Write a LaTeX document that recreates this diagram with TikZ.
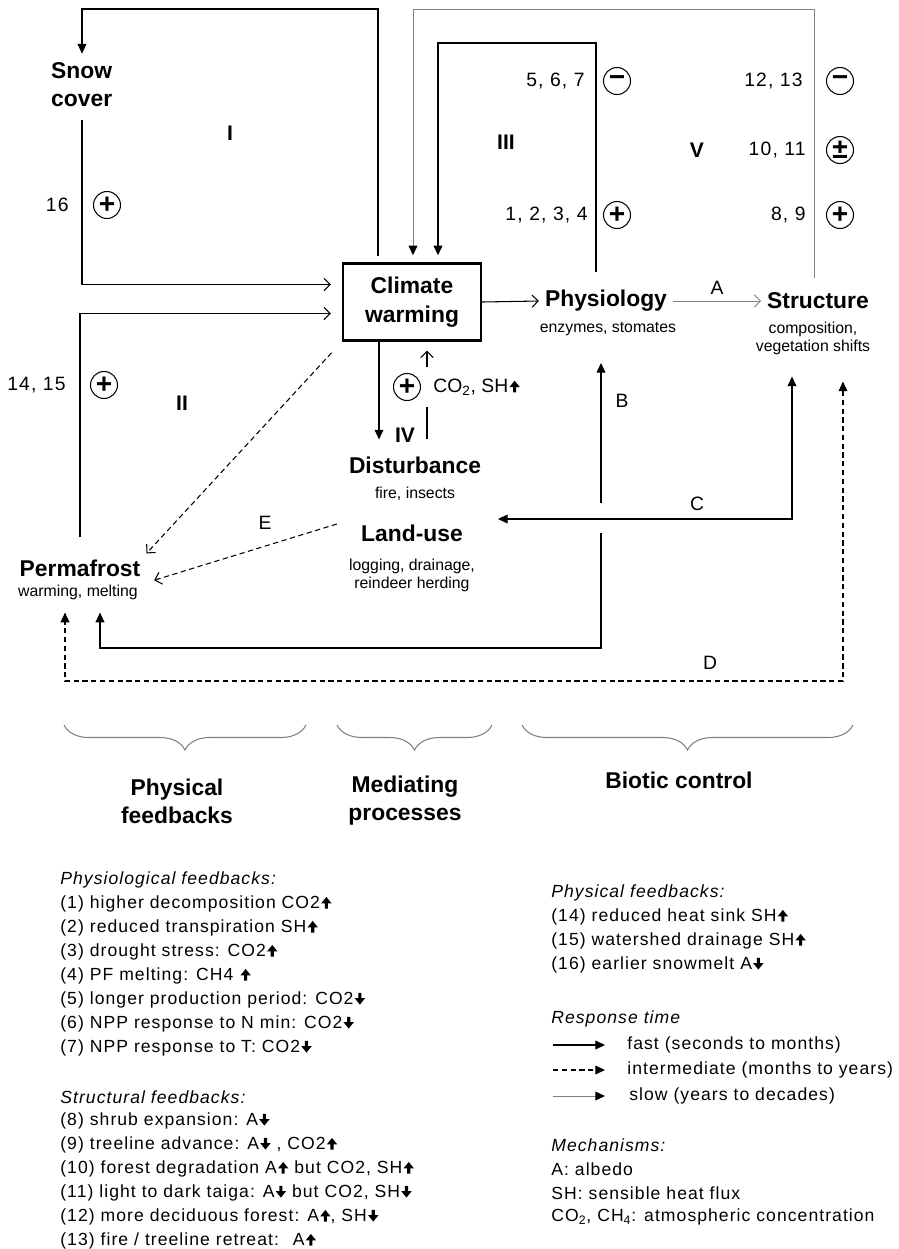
\documentclass[tikz,border=0pt]{standalone}
\usepackage{fontspec}
\setmainfont{Liberation Sans}
\newfontfamily\legfont{Liberation Sans}[LetterSpace=6]
\usetikzlibrary{arrows.meta,decorations.pathreplacing}
\newcommand{\upa}{\hspace{0.6pt}\tikz[x=1pt,y=1pt,baseline=0pt]\fill[black] (-0.9,0) rectangle (0.9,3.2) (-3,2.9) -- (0,6.6) -- (3,2.9) -- cycle;}
\newcommand{\dna}{\hspace{0.6pt}\tikz[x=1pt,y=1pt,baseline=0pt]\fill[black] (-0.9,6.6) rectangle (0.9,3.4) (-3,3.7) -- (0,0) -- (3,3.7) -- cycle;}

\begin{document}
\begin{tikzpicture}[
    x=0.02cm, y=-0.02cm,
    tri/.tip={Triangle[length=5.5pt,width=5pt]},
    stri/.tip={Triangle[length=5.5pt,width=5pt,color=black]},
    chev/.tip={Straight Barb[length=3.5pt,width=7pt]},
    fast/.style={draw=black, line width=0.6pt},
    mid/.style={draw=black, line width=0.6pt, dash pattern=on 3pt off 2pt},
    slow/.style={draw=gray, line width=0.5pt},
    title/.style={font=\fontsize{13}{16}\selectfont\bfseries, align=center},
    sub/.style={font=\fontsize{9}{10.2}\selectfont, align=center},
    cbox/.style={rectangle, draw, line width=1.4pt, minimum width=2.76cm, minimum height=1.54cm, align=center, font=\fontsize{13}{16.4}\selectfont\bfseries},
    num/.style={font=\legfont\fontsize{11}{13}\selectfont, inner sep=0pt, anchor=east},
    lab/.style={font=\fontsize{11}{13}\selectfont},
    roman/.style={font=\fontsize{12}{14}\selectfont\bfseries},
    sign/.style={circle, draw, line width=0.6pt, minimum size=0.54cm, inner sep=0pt, font=\fontsize{16}{16}\selectfont\bfseries},
    brace/.style={draw=gray, line width=0.6pt, decorate, decoration={brace, amplitude=0.5cm}},
    leg/.style={anchor=west, inner sep=0pt, font=\legfont\fontsize{10}{12}\selectfont},
    legh/.style={leg, font=\legfont\fontsize{10}{12}\selectfont\itshape}
]
\useasboundingbox (0,0) rectangle (899,1249);
% Nodes of the scheme
\node[cbox] (climate) at (412,302) {Climate\\warming};
\node[title] (phys) at (606,301) {Physiology};
\node[sub] (physsub) at (608,329) {enzymes, stomates};
\node[title] (struct) at (818,301) {Structure};
\node[sub] (structsub) at (813,338) {composition,\\vegetation shifts};
\node[title] (dist) at (415,465) {Disturbance};
\node[sub] (distsub) at (415,494) {fire, insects};
\node[title] (landuse) at (412,533) {Land-use};
\node[sub] (landsub) at (412,575) {logging, drainage,\\reindeer herding};
\node[title] (perma) at (80,568) {Permafrost};
\node[sub] (permasub) at (78,592) {warming, melting};
\node[title, align=left, anchor=west] (snow) at (45,85) {Snow\\cover};
% Loop I (snow cover)
\coordinate (c1a) at (378,9);
\coordinate (c1b) at (82,9);
\draw[fast,-tri,shorten <=0.12cm,shorten >=0.06cm] (c1a |- climate.north) -- (c1a) -- (c1b) -- (c1b |- snow.north);
\draw[fast,-chev,shorten <=0.14cm,shorten >=0.22cm] (c1b |- snow.south) |- ([yshift=0.35cm]climate.west);
% Loop II (permafrost)
\draw[fast,-chev,shorten <=0.32cm,shorten >=0.22cm] (perma.north) |- ([yshift=-0.23cm]climate.west);
% Loop III (physiology)
\coordinate (c3a) at (596,43);
\coordinate (c3b) at (438,43);
\draw[fast,-tri,shorten <=0.24cm,shorten >=0.14cm] (c3a |- phys.north) -- (c3a) -- (c3b) -- (c3b |- climate.north);
% Loop V (structure)
\coordinate (c5a) at (814,9);
\coordinate (c5b) at (413,9);
\draw[slow,-stri,shorten <=0.18cm,shorten >=0.14cm] (c5a |- struct.north) -- (c5a) -- (c5b) -- (c5b |- climate.north);
% Climate, physiology, structure
\draw[fast,-chev] (climate.east) -- (phys.west);
\draw[slow,-chev] (phys.east) -- node[above, lab] (labA) {A} (struct.west);
% Loop IV (disturbance)
\draw[fast,-tri,shorten >=0.22cm] ([xshift=-0.66cm]climate.south) -- ([xshift=-0.66cm]climate.south |- dist.north);
\coordinate (up1) at (427,407);
\coordinate (up2) at (427,367);
\draw[fast,shorten <=0.22cm] (up1 |- dist.north) -- (up1);
\draw[fast,-chev,shorten >=0.18cm] (up2) -- (up2 |- climate.south);
\node[sign] (sgn4) at (407,387) {+};
\node[lab, anchor=west, inner sep=0pt] (co2) at (433,387) {CO\textsubscript{2}, SH\upa};
% B: physiology - permafrost
\coordinate (b1) at (601,503);
\coordinate (b2) at (601,533);
\coordinate (b3) at (100,648);
\draw[fast,tri-,shorten <=0.42cm] (b1 |- physsub.south) -- (b1);
\draw[fast,-tri,shorten >=0.14cm] (b2) |- (b3) -- (b3 |- permasub.south);
\node[lab] (labB) at (622,401) {B};
% C: structure - land-use
\coordinate (cc) at (792,519);
\draw[fast,tri-tri,shorten <=0.58cm,shorten >=0.32cm] (cc -| landuse.east) -- (cc) -- (cc |- structsub.south);
\node[lab] (labC) at (697,504) {C};
% D: structure - permafrost
\coordinate (d1) at (843,681);
\coordinate (d2) at (65,681);
\draw[mid,tri-tri,shorten <=0.42cm,shorten >=0.14cm] (d1 |- structsub.south) -- (d1) -- (d2) -- (d2 |- permasub.south);
\node[lab] (labD) at (710,663) {D};
% E and climate -> permafrost
\draw[mid,-chev,shorten <=0.3cm] (climate.south west) -- (perma.north east);
\draw[mid,-chev,shorten <=0.38cm,shorten >=0.16cm] (landuse.north west) -- (perma.south east);
\node[lab] (labE) at (265,523) {E};
% Signs and feedback numbers
\node[sign] (s16) at (107,205) {+};
\node[sign] (s1415) at (104,385) {+};
\node[sign] (s57) at (617,81) {−};
\node[sign] (s14) at (617,215) {+};
\node[sign] (s1213) at (840,81) {−};
\node[sign] (s1011) at (840,150) {±};
\node[sign] (s89) at (840,215) {+};
\node[num] (n16) at (69,205) {16};
\node[num] (n1415) at (66,385) {14, 15};
\node[num] (n57) at (585,81) {5, 6, 7};
\node[num] (n14) at (588,215) {1, 2, 3, 4};
\node[num] (n1213) at (803,81) {12, 13};
\node[num] (n1011) at (806,150) {10, 11};
\node[num] (n89) at (806,215) {8, 9};
\node[roman] (rI) at (230,133) {I};
\node[roman] (rII) at (182,403) {II};
\node[roman] (rIII) at (506,142) {III};
\node[roman] (rIV) at (405,435) {IV};
\node[roman] (rV) at (697,150) {V};
% Braces
\draw[brace] (306,725) -- (64,725);
\draw[brace] (492,725) -- (337,725);
\draw[brace] (853,725) -- (522,725);
\node[title] (gphys) at (177,801) {Physical\\feedbacks};
\node[title] (gmed) at (405,801) {Mediating\\processes};
\node[title] (gbio) at (679,780) {Biotic control};
% Legend, left
\node[legh] (h1) at (60,880) {Physiological feedbacks:};
\node[leg] (l1) at (60,904) {(1) higher decomposition CO2\upa};
\node[leg] (l2) at (60,928) {(2) reduced transpiration SH\upa};
\node[leg] (l3) at (60,952) {(3) drought stress: CO2\upa};
\node[leg] (l4) at (60,976) {(4) PF melting: CH4 \upa};
\node[leg] (l5) at (60,1000) {(5) longer production period: CO2\dna};
\node[leg] (l6) at (60,1024) {(6) NPP response to N min: CO2\dna};
\node[leg] (l7) at (60,1048) {(7) NPP response to T: CO2\dna};
\node[legh] (h2) at (60,1097) {Structural feedbacks:};
\node[leg] (l8) at (60,1121) {(8) shrub expansion: A\dna};
\node[leg] (l9) at (60,1145) {(9) treeline advance: A\dna{} , CO2\upa};
\node[leg] (l10) at (60,1169) {(10) forest degradation A\upa{} but CO2, SH\upa};
\node[leg] (l11) at (60,1193) {(11) light to dark taiga: A\dna{} but CO2, SH\dna};
\node[leg] (l12) at (60,1217) {(12) more deciduous forest: A\upa, SH\dna};
\node[leg] (l13) at (60,1241) {(13) fire / treeline retreat: \ A\upa};
% Legend, right
\node[legh] (h3) at (551,893) {Physical feedbacks:};
\node[leg] (l14) at (551,917) {(14) reduced heat sink SH\upa};
\node[leg] (l15) at (551,941) {(15) watershed drainage SH\upa};
\node[leg] (l16) at (551,965) {(16) earlier snowmelt A\dna};
\node[legh] (h4) at (551,1019) {Response time};
\coordinate (lf0) at (553,1045);
\coordinate (lf1) at (605,1045);
\coordinate (li0) at (553,1070);
\coordinate (li1) at (605,1070);
\coordinate (ls0) at (553,1096);
\coordinate (ls1) at (605,1096);
\draw[fast,-tri] (lf0) -- (lf1);
\draw[mid,-tri] (li0) -- (li1);
\draw[slow,-stri] (ls0) -- (ls1);
\node[leg] (tfast) at (627,1045) {fast (seconds to months)};
\node[leg] (tmid) at (627,1070) {intermediate (months to years)};
\node[leg] (tslow) at (629,1096) {slow (years to decades)};
\node[legh] (h5) at (551,1145) {Mechanisms:};
\node[leg] (m1) at (551,1169) {A: albedo};
\node[leg] (m2) at (551,1193) {SH: sensible heat flux};
\node[leg] (m3) at (551,1217) {CO\textsubscript{2}, CH\textsubscript{4}: atmospheric concentration};
\end{tikzpicture}
\end{document}
